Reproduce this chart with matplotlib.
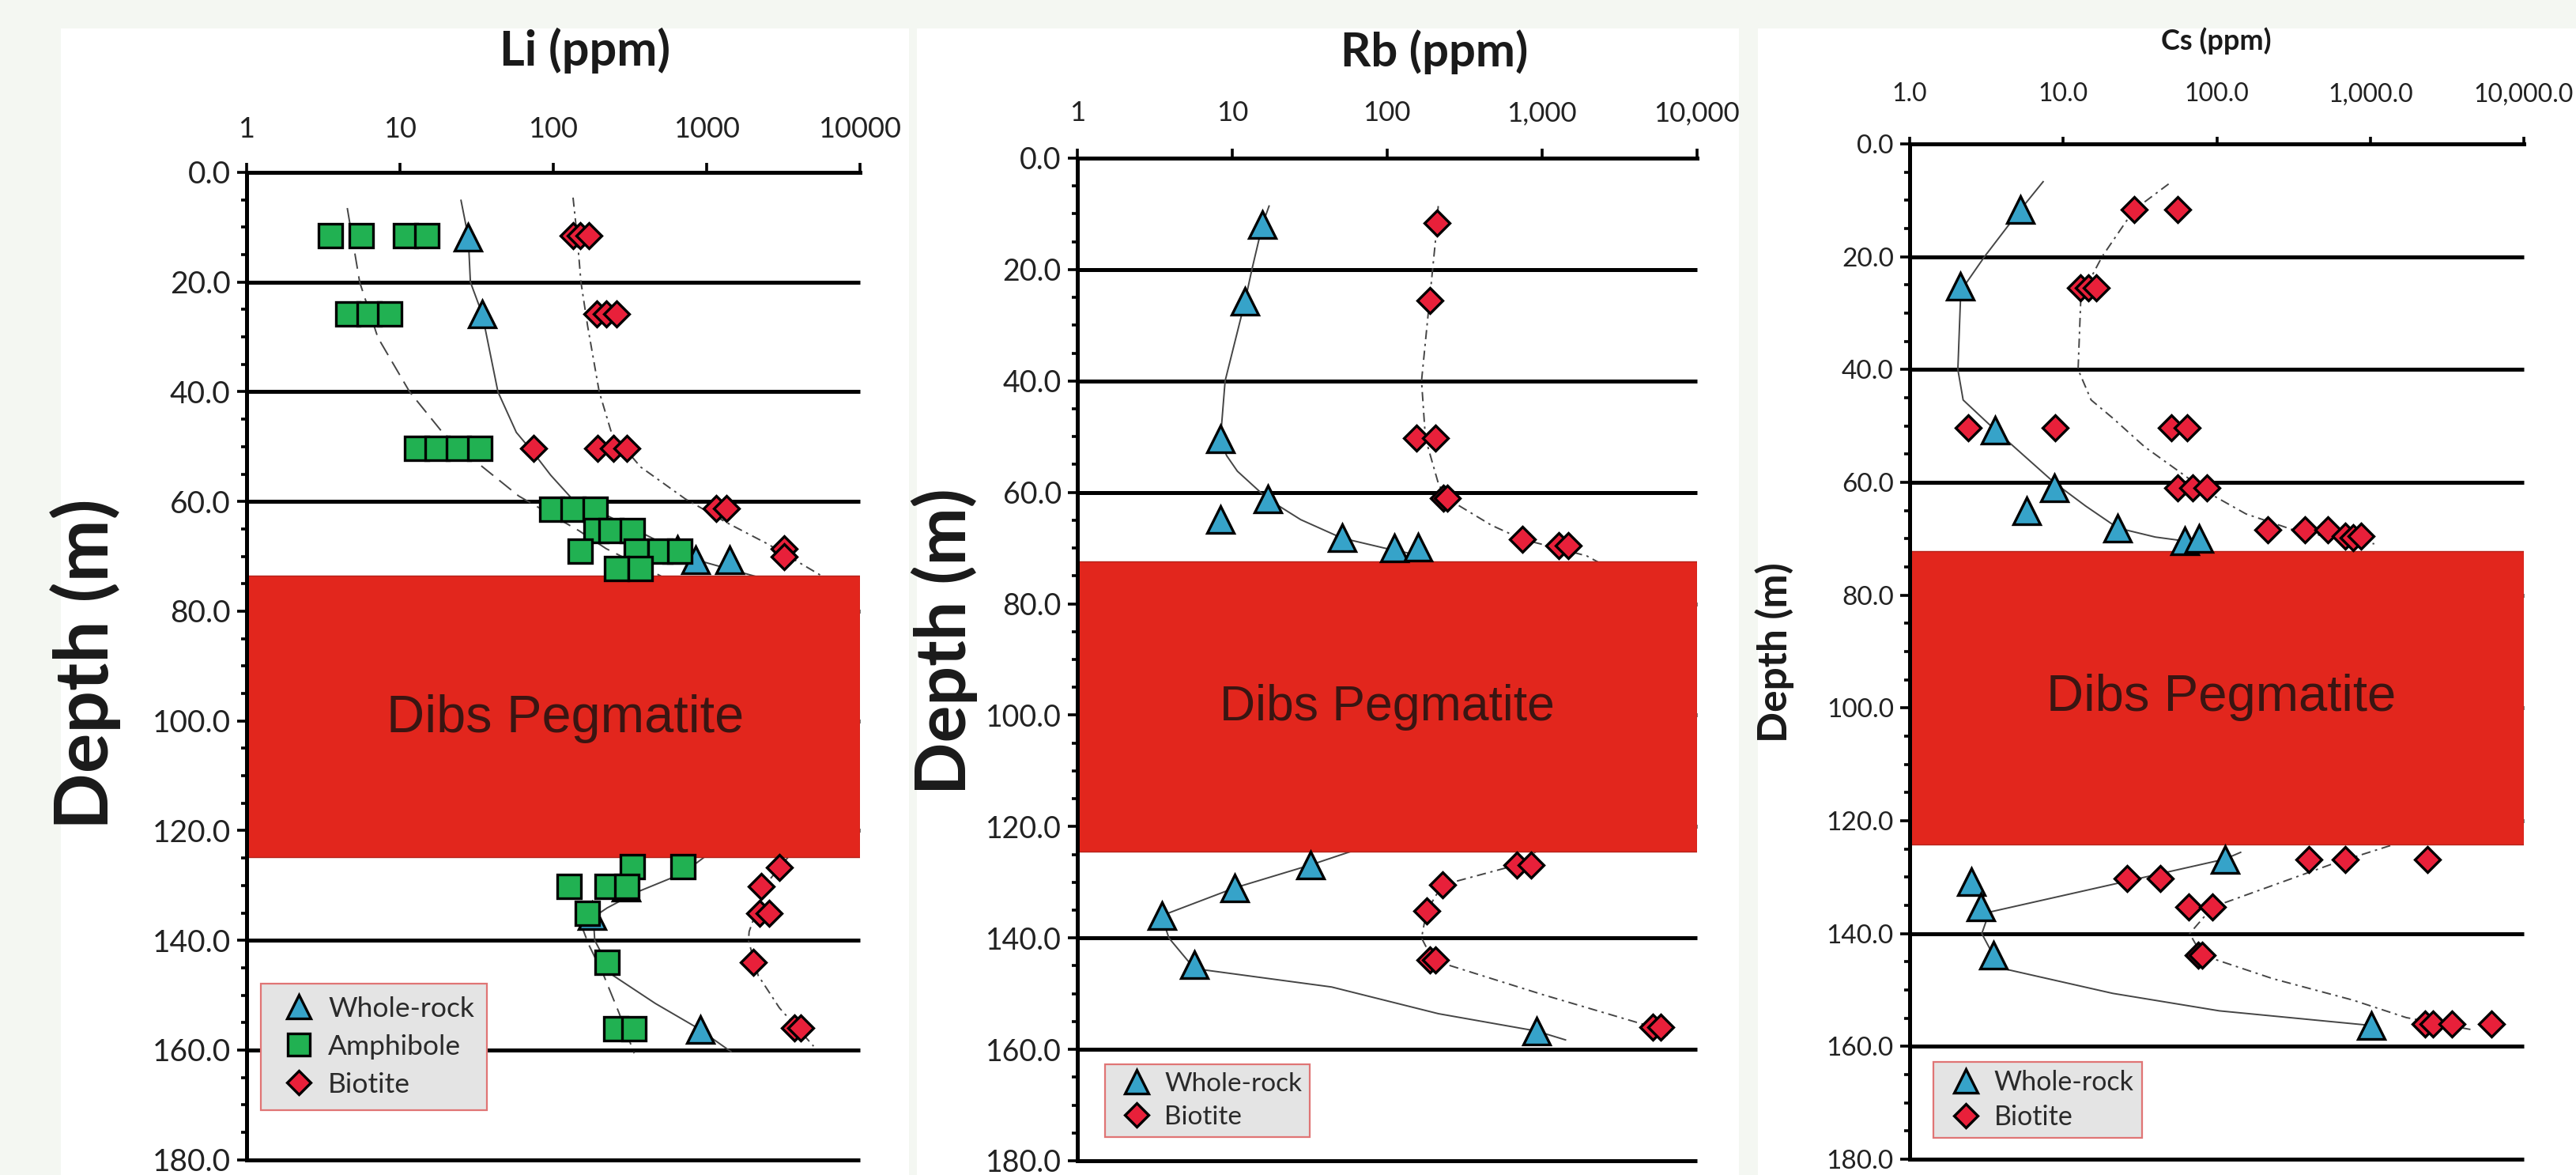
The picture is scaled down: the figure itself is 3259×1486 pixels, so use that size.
import numpy as np
import matplotlib.pyplot as plt
from matplotlib.patches import Rectangle
from matplotlib.ticker import FixedLocator, MultipleLocator, NullLocator

plt.rcParams['font.family'] = ['Lato', 'DejaVu Sans']

W, H = 3259, 1486

# ---------------- shared axes values ----------------
depth_ticks = [0, 20, 40, 60, 80, 100, 120, 140, 160, 180]
depth_labels = ["0.0", "20.0", "40.0", "60.0", "80.0", "100.0", "120.0", "140.0", "160.0", "180.0"]
grid_depths = [20, 40, 60, 80, 100, 120, 140, 160, 180]
conc_ticks = [1, 10, 100, 1000, 10000]
li_xlabels = ["1", "10", "100", "1000", "10000"]
rb_xlabels = ["1", "10", "100", "1,000", "10,000"]
cs_xlabels = ["1.0", "10.0", "100.0", "1,000.0", "10,000.0"]

# pegmatite body (depth m): top, base
li_peg = [73.5, 124.8]
rb_peg = [72.4, 124.5]
cs_peg = [72.2, 124.2]

# ---------------- Li (ppm) ----------------
li_wr_depth = [11.8, 25.8, 68.8, 70.6, 70.6, 130.3, 135.5, 156.3]
li_wr_ppm = [28, 34.5, 650, 847, 1416, 300, 180, 918]
li_amph_depth = [11.6, 11.6, 11.6, 11.6, 25.8, 25.8, 25.8,
                 50.3, 50.3, 50.3, 50.3, 61.4, 61.4, 61.4,
                 65.3, 65.3, 65.3, 69.1, 69.1, 69.1, 69.1, 72.2, 72.2,
                 126.5, 126.5, 130.1, 130.1, 130.1, 135.0, 144.0, 156.1, 156.1]
li_amph_ppm = [3.53, 5.6, 10.9, 15.1, 4.6, 6.3, 8.6,
               12.9, 17.5, 24.2, 33.3, 98, 135, 188,
               190, 240, 330, 151, 349, 499, 671, 259, 371,
               330, 700, 127, 225, 302, 167, 225, 257, 338]
li_bio_depth = [11.6, 11.6, 11.6, 25.8, 25.8, 25.8, 50.3, 50.3, 50.3, 50.3,
                61.2, 61.2, 68.6, 70.1, 126.7, 130.1, 135.0, 135.0, 144.0, 155.9, 155.9]
li_bio_ppm = [135, 150, 171, 193, 221, 259, 74.6, 195, 246, 303,
              1153, 1346, 3228, 3228, 2990, 2277, 2225, 2550, 2033, 3748, 4110]

li_wr_fit_top_d = [5.1, 11.8, 20, 25.8, 40, 47.4, 51.3, 55.2, 59.5, 62.8, 70.6, 73.9]
li_wr_fit_top_v = [25.1, 28, 28.9, 34.5, 43.7, 57.6, 75.4, 96.5, 133, 234, 847, 2250]
li_wr_fit_bot_d = [124.9, 127.8, 131.2, 134.1, 135.8, 140, 146.4, 151.5, 156, 160.3]
li_wr_fit_bot_v = [962, 700, 353, 225, 183, 187, 246, 464, 877, 1446]
li_amph_fit_top_d = [6.5, 20, 30.1, 40, 47.4, 53.2, 59, 65.3, 68.6, 73.6]
li_amph_fit_top_v = [4.55, 5.48, 7.2, 11.6, 19, 33, 59.7, 147, 222, 506]
li_amph_fit_bot_d = [124.5, 128, 131, 135, 137.9, 140.8, 146.4, 153.2, 160.6]
li_amph_fit_bot_v = [380, 280, 200, 165, 156, 171, 214, 269, 338]
li_bio_fit_top_d = [4.6, 11.6, 20, 28, 40, 47.4, 53.7, 59.5, 63.8, 67.7, 73.6]
li_bio_fit_top_v = [135, 143.5, 152, 168, 200, 240, 372, 726, 1346, 2494, 5680]
li_bio_fit_bot_d = [124.5, 126.7, 130.1, 135, 138.4, 140, 146.4, 152.3, 159.3]
li_bio_fit_bot_v = [3500, 2990, 2400, 2100, 1900, 1880, 2175, 2990, 5000]

# ---------------- Rb (ppm) ----------------
rb_wr_depth = [11.9, 25.7, 50.4, 61.2, 64.9, 68.2, 70.0, 69.8, 126.9, 131.0, 136.0, 144.8, 156.7]
rb_wr_ppm = [15.7, 12.1, 8.4, 17.0, 8.4, 51, 112, 159, 31.9, 10.4, 3.5, 5.7, 920]
rb_bio_depth = [11.6, 25.6, 50.3, 50.3, 61.0, 61.0, 68.4, 69.6, 69.6,
                126.9, 126.9, 130.5, 135.2, 144.0, 144.0, 156.0, 156.0]
rb_bio_ppm = [211, 188, 154, 206, 230, 245, 744, 1292, 1477,
              688, 851, 227, 180, 190, 205, 5200, 5860]

rb_wr_fit_top_d = [8.6, 11.9, 20, 25.7, 40, 50.4, 53.4, 56.2, 61.2, 64.9, 68.2, 70, 71.2, 72.5]
rb_wr_fit_top_v = [17.3, 15.7, 13.4, 12.1, 9.0, 8.4, 9.2, 10.8, 17, 27.7, 51, 96, 155, 200]
rb_wr_fit_bot_d = [124.3, 126.9, 131.0, 136.0, 140.0, 145.5, 148.8, 153.6, 156.7, 158.3]
rb_wr_fit_bot_v = [61, 32, 10.4, 3.5, 3.9, 5.7, 43.8, 215, 920, 1420]
rb_bio_fit_top_d = [8.6, 11.6, 25.6, 40, 50.3, 58.5, 61, 65.9, 68.4, 71.4, 72.5]
rb_bio_fit_top_v = [214, 211, 188, 167, 177, 215, 241, 472, 744, 1945, 2300]
rb_bio_fit_bot_d = [123.8, 126.9, 130.5, 135.2, 140, 144, 150.2, 156, 157.5]
rb_bio_fit_bot_v = [996, 688, 227, 180, 167, 198, 1020, 5200, 6500]

# ---------------- Cs (ppm) ----------------
cs_wr_depth = [11.7, 25.3, 50.7, 61.0, 65.1, 68.1, 70.4, 70.0, 126.8, 130.8, 135.3, 143.8, 156.3]
cs_wr_ppm = [5.25, 2.14, 3.6, 8.7, 5.8, 22.7, 61.8, 76.8, 113, 2.51, 2.9, 3.5, 1020]
cs_bio_depth = [11.7, 11.7, 25.5, 25.5, 25.5, 50.3, 50.3, 50.3, 50.3, 61, 61, 61,
                68.4, 68.4, 68.4, 69.6, 69.8, 69.6, 126.8, 126.8, 126.8,
                130.3, 130.3, 135.3, 135.3, 143.8, 143.8, 156, 156, 156, 156]
cs_bio_ppm = [28.9, 55.7, 13, 14.6, 16.5, 2.41, 8.9, 50.6, 64.4, 55.7, 69.7, 86.5,
              214, 375, 529, 684, 771, 869, 400, 684, 2366,
              26, 43, 66, 94, 75.5, 80.5, 2274, 2563, 3390, 6185]

cs_wr_fit_top_d = [6.7, 11.7, 20, 25.3, 27.9, 40, 45.4, 50.7, 60, 64.2, 68.1, 69.7, 70.6]
cs_wr_fit_top_v = [7.4, 5.25, 3.07, 2.25, 2.14, 2.06, 2.23, 3.6, 8.7, 14, 22.7, 39.8, 70]
cs_wr_fit_bot_d = [125.6, 126.8, 136.2, 140, 143.8, 146.1, 150.6, 153.7, 156.3]
cs_wr_fit_bot_v = [143, 113, 3.3, 2.95, 3.5, 3.9, 21, 104, 1020]
cs_bio_fit_top_d = [7.1, 11.7, 20, 25.5, 27.9, 40, 45.4, 48.6, 53.7, 57.8, 61.9, 65.6, 68.8, 70.9]
cs_bio_fit_top_v = [48.6, 28.9, 17.9, 14, 13, 12.5, 15.2, 21, 33.9, 55, 88.7, 155, 346, 1062]
cs_bio_fit_bot_d = [124.4, 127.7, 135.3, 140, 143.8, 148, 151.8, 154.9, 157]
cs_bio_fit_bot_v = [1350, 560, 94, 66.6, 80, 232, 771, 1718, 4490]

# ---------------- styles ----------------
MARK = {
    "Whole-rock": dict(marker="^", ms=24, mfc="#36a3c9", mec="black", mew=2.4, zorder=4),
    "Amphibole": dict(marker="s", ms=21.5, mfc="#21b152", mec="black", mew=2.4, zorder=5),
    "Biotite": dict(marker="D", ms=16.5, mfc="#e8203a", mec="black", mew=2.4, zorder=6),
}
FIT = {
    "Whole-rock": dict(ls="-"),
    "Amphibole": dict(ls=(0, (10, 5))),
    "Biotite": dict(ls=(0, (6, 3, 1.5, 3))),
}


def px_rect(x0, y0, x1, y1):
    return [x0 / W, 1 - y1 / H, (x1 - x0) / W, (y1 - y0) / H]


fig = plt.figure(figsize=(W / 100, H / 100), dpi=100, facecolor="#f4f7f2")

# white panel backgrounds (behind the axes)
for x0, x1 in [(77, 1150), (1160, 2200), (2224, 3259)]:
    fig.patches.append(Rectangle((x0 / W, 0), (x1 - x0) / W, 1 - 36 / H,
                                 transform=fig.transFigure, fc="white", ec="none", zorder=-5))


def draw_panel(box, xlabels, points, fits, peg, peg_text_xy, sz, leg_anchor, leg_sz):
    ax = fig.add_axes(px_rect(*box))
    ax.patch.set_alpha(0)
    ax.set_xscale("log")
    ax.set_xlim(1, 1e4)
    ax.set_ylim(180, 0)

    for s in ["bottom", "right"]:
        ax.spines[s].set_visible(False)
    for s in ["top", "left"]:
        ax.spines[s].set_linewidth(3.6)
        ax.spines[s].set_zorder(2.5)

    ax.hlines(grid_depths, 1, 1e4, colors="black", lw=3.6, zorder=1.5, clip_on=False)

    ax.xaxis.tick_top()
    ax.set_xticks(conc_ticks, xlabels)
    ax.xaxis.set_minor_locator(NullLocator())
    ax.tick_params(axis="x", which="major", direction="out", length=sz["xlen"], width=2.6,
                   labelsize=sz["xtick"], pad=sz["xpad"], colors="black", labelcolor="#222222")

    ax.yaxis.set_major_locator(FixedLocator(depth_ticks))
    ax.set_yticklabels(depth_labels)
    ax.yaxis.set_minor_locator(MultipleLocator(5))
    ax.tick_params(axis="y", which="major", direction="out", length=8.5, width=2.6,
                   labelsize=sz["ytick"], pad=6, labelcolor="#222222")
    ax.tick_params(axis="y", which="minor", direction="out", length=5, width=2.6)

    # pegmatite body
    ax.add_patch(Rectangle((1, peg[0]), 1e4 - 1, peg[1] - peg[0], fc="#e2261d",
                           ec="#b5221a", lw=1.0, zorder=2))
    ax.text(peg_text_xy[0], peg_text_xy[1], "Dibs Pegmatite", ha="center", va="center",
            fontsize=sz["peg"], family=["Liberation Sans", "DejaVu Sans"],
            color="#3a1512", zorder=2.2)

    # fitted trend curves
    for label, d, v in fits:
        ax.plot(v, d, color="#454545", lw=1.4, zorder=1.8, **FIT[label])

    handles = []
    for label, d, v in points:
        h, = ax.plot(v, d, ls="none", label=label, **MARK[label])
        handles.append(h)

    leg = ax.legend(handles=handles, loc="upper left", bbox_to_anchor=leg_anchor,
                    borderaxespad=0, fontsize=leg_sz["fs"], markerscale=0.92,
                    handlelength=1.8, handletextpad=0.15, borderpad=leg_sz["bp"],
                    labelspacing=leg_sz["ls"], fancybox=False, framealpha=1,
                    facecolor="#e4e4e4", edgecolor="#e07575")
    leg.get_frame().set_linewidth(1.6)
    for t in leg.get_texts():
        t.set_color("#2a2a2a")
    return ax


# ---- Li ----
draw_panel((311.7, 218, 1087.7, 1466.7), li_xlabels,
           [("Whole-rock", li_wr_depth, li_wr_ppm),
            ("Amphibole", li_amph_depth, li_amph_ppm),
            ("Biotite", li_bio_depth, li_bio_ppm)],
           [("Amphibole", li_amph_fit_top_d, li_amph_fit_top_v),
            ("Amphibole", li_amph_fit_bot_d, li_amph_fit_bot_v),
            ("Whole-rock", li_wr_fit_top_d, li_wr_fit_top_v),
            ("Whole-rock", li_wr_fit_bot_d, li_wr_fit_bot_v),
            ("Biotite", li_bio_fit_top_d, li_bio_fit_top_v),
            ("Biotite", li_bio_fit_bot_d, li_bio_fit_bot_v)],
           li_peg, (120, 99.6),
           dict(xtick=26, ytick=28, xpad=19, xlen=8.5, peg=48),
           (0.0236, 0.1785), dict(fs=25.5, bp=0.45, ls=0.45))

# ---- Rb ----
draw_panel((1363, 200, 2146.6, 1468), rb_xlabels,
           [("Whole-rock", rb_wr_depth, rb_wr_ppm),
            ("Biotite", rb_bio_depth, rb_bio_ppm)],
           [("Whole-rock", rb_wr_fit_top_d, rb_wr_fit_top_v),
            ("Whole-rock", rb_wr_fit_bot_d, rb_wr_fit_bot_v),
            ("Biotite", rb_bio_fit_top_d, rb_bio_fit_top_v),
            ("Biotite", rb_bio_fit_bot_d, rb_bio_fit_bot_v)],
           rb_peg, (100, 98.6),
           dict(xtick=25, ytick=27, xpad=21, xlen=8.5, peg=45),
           (0.0447, 0.0962), dict(fs=24, bp=0.3, ls=0.35))

# ---- Cs ----
draw_panel((2416, 182, 3193, 1466), cs_xlabels,
           [("Whole-rock", cs_wr_depth, cs_wr_ppm),
            ("Biotite", cs_bio_depth, cs_bio_ppm)],
           [("Whole-rock", cs_wr_fit_top_d, cs_wr_fit_top_v),
            ("Whole-rock", cs_wr_fit_bot_d, cs_wr_fit_bot_v),
            ("Biotite", cs_bio_fit_top_d, cs_bio_fit_top_v),
            ("Biotite", cs_bio_fit_bot_d, cs_bio_fit_bot_v)],
           cs_peg, (107, 98.2),
           dict(xtick=23, ytick=24, xpad=28, xlen=6.5, peg=47),
           (0.039, 0.0958), dict(fs=24.5, bp=0.3, ls=0.35))

# titles and depth labels
fig.text(740 / W, 1 - 64 / H, "Li (ppm)", ha="center", va="center", fontsize=44,
         fontweight="bold", color="#1a1a1a")
fig.text(1815 / W, 1 - 66 / H, "Rb (ppm)", ha="center", va="center", fontsize=43,
         fontweight="bold", color="#1a1a1a")
fig.text(2804 / W, 1 - 52 / H, "Cs (ppm)", ha="center", va="center", fontsize=26,
         fontweight="bold", color="#1a1a1a")
fig.text(108 / W, 1 - 840 / H, "Depth (m)", ha="center", va="center", rotation=90,
         fontsize=68, fontweight="bold", color="#1a1a1a")
fig.text(1195 / W, 1 - 811 / H, "Depth (m)", ha="center", va="center", rotation=90,
         fontsize=63, fontweight="bold", color="#1a1a1a")
fig.text(2245 / W, 1 - 825 / H, "Depth (m)", ha="center", va="center", rotation=90,
         fontsize=37, fontweight="bold", color="#1a1a1a")

fig.savefig("out.png", dpi=100, facecolor=fig.get_facecolor())
